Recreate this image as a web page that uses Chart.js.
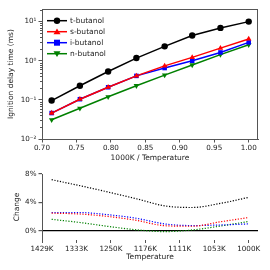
<!DOCTYPE html>
<html lang="en">

<head>
    <meta charset="UTF-8">
    <title>Ignition delay</title>
    <script src="https://cdn.jsdelivr.net/npm/chart.js"></script>
    <style>
        body { margin: 0; background: #fff; }
        #grafico1 { position: absolute; left: 0; top: 0; }
        #grafico2 { position: absolute; left: 0; top: 163px; }
    </style>
</head>

<body>
    <canvas id="grafico1" width="270" height="165"></canvas>
    <canvas id="grafico2" width="270" height="107"></canvas>
</body>

</html>
<script>
    // 1000K / T, same x for both panels
    const invT = [0.714, 0.755, 0.796, 0.837, 0.878, 0.918, 0.959, 1.0];

    // ignition delay (ms)
    const tButanol = [0.096, 0.23, 0.53, 1.17, 2.33, 4.4, 6.9, 10.0];
    const sButanol = [0.046, 0.104, 0.21, 0.41, 0.74, 1.22, 2.1, 3.6];
    const iButanol = [0.046, 0.104, 0.21, 0.41, 0.65, 1.0, 1.63, 2.95];
    const nButanol = [0.031, 0.061, 0.12, 0.23, 0.43, 0.78, 1.43, 2.57];

    // change (%)
    const tChange = [7.2, 6.35, 5.45, 4.5, 3.5, 3.27, 3.85, 4.7];
    const sChange = [2.47, 2.35, 2.0, 1.45, 0.7, 0.62, 1.25, 1.85];
    const iChange = [2.55, 2.55, 2.25, 1.75, 0.95, 0.72, 0.8, 0.95];
    const nChange = [1.6, 1.15, 0.6, 0.12, -0.14, 0.1, 0.65, 1.3];

    const xTicks = [0.70, 0.75, 0.80, 0.85, 0.90, 0.95, 1.00];
    const logTicks = [0.01, 0.1, 1, 10];
    const logLabels = ['10⁻²', '10⁻¹', '10⁰', '10¹'];
    const changeTicks = [0, 4, 8];

    const nomes = ['t-butanol', 's-butanol', 'i-butanol', 'n-butanol'];
    const cores = ['#000000', '#ff0000', '#0000ff', '#008000'];
    const marcadores = ['circle', 'triangle', 'rect', 'triangle'];
    const rotacoes = [0, 0, 0, 180];

    const cinza = '#555';
    Chart.defaults.font.family = 'DejaVu Sans';
    Chart.defaults.color = '#222';

    function pontos(ys) {
        return invT.map((x, i) => ({ x: x, y: ys[i] }));
    }

    // small line+marker sample, like the matplotlib legend handle
    function desenhaIcone(g, x, y, cor, estilo, rot) {
        g.save();
        g.strokeStyle = cor; g.fillStyle = cor; g.lineWidth = 1.5;
        g.beginPath(); g.moveTo(x - 10, y); g.lineTo(x + 10, y); g.stroke();
        g.beginPath();
        if (estilo == 'circle') {
            g.arc(x, y, 3.2, 0, Math.PI * 2);
        } else if (estilo == 'rect') {
            g.rect(x - 3, y - 3, 6, 6);
        } else if (rot == 180) {
            g.moveTo(x - 3.5, y - 2.5); g.lineTo(x + 3.5, y - 2.5); g.lineTo(x, y + 3.3);
        } else {
            g.moveTo(x - 3.5, y + 2.5); g.lineTo(x + 3.5, y + 2.5); g.lineTo(x, y - 3.3);
        }
        g.closePath(); g.fill();
        g.restore();
    }

    const legenda = {
        id: 'legenda',
        afterDraw(chart) {
            const a = chart.chartArea, ctx = chart.ctx;
            ctx.save();
            ctx.font = '7.5px "DejaVu Sans"';
            ctx.fillStyle = '#222';
            ctx.textBaseline = 'middle';
            chart.data.datasets.forEach((ds, i) => {
                const y = a.top + 11.7 + i * 11;
                desenhaIcone(ctx, a.left + 15, y, cores[i], marcadores[i], rotacoes[i]);
                ctx.fillText(ds.label, a.left + 28, y + 0.5);
            });
            ctx.restore();
        }
    };

    const moldura = {
        id: 'moldura',
        afterDraw(chart) {
            const a = chart.chartArea, ctx = chart.ctx;
            ctx.save();
            ctx.strokeStyle = cinza; ctx.lineWidth = 1;
            ctx.strokeRect(a.left + 0.5, a.top + 0.5, a.right - a.left - 1, a.bottom - a.top);
            // minor ticks of the log axis
            const y = chart.scales.y;
            ctx.beginPath();
            for (let d = 0.01; d < 20; d *= 10) {
                for (let k = 2; k < 10; k++) {
                    const v = d * k;
                    if (v > y.max) break;
                    const py = Math.round(y.getPixelForValue(v)) + 0.5;
                    ctx.moveTo(a.left - 2, py); ctx.lineTo(a.left, py);
                }
            }
            ctx.stroke();
            ctx.restore();
        }
    };

    new Chart(document.getElementById('grafico1'), {
        type: 'line',
        data: {
            datasets: nomes.map((n, i) => ({
                label: n,
                data: pontos([tButanol, sButanol, iButanol, nButanol][i]),
                borderColor: cores[i],
                backgroundColor: cores[i],
                borderWidth: 1.5,
                pointStyle: marcadores[i],
                rotation: rotacoes[i],
                pointRadius: 3.2,
                pointBorderWidth: 0,
                tension: 0
            }))
        },
        plugins: [moldura, legenda],
        options: {
            responsive: false,
            animation: false,
            devicePixelRatio: 1,
            layout: { padding: { top: 9, right: 12, left: 0, bottom: 0 } },
            plugins: { legend: { display: false }, tooltip: { enabled: false } },
            scales: {
                x: {
                    type: 'linear',
                    min: 0.7,
                    max: 1.0135,
                    afterBuildTicks: s => { s.ticks = xTicks.map(v => ({ value: v })); },
                    afterFit: s => { s.height = 26; },
                    border: { display: true, color: cinza },
                    grid: { drawOnChartArea: false, tickLength: 3.5, tickColor: cinza },
                    ticks: { font: { size: 7.2 }, padding: 1.5, maxRotation: 0, callback: v => v.toFixed(2) },
                    title: { display: true, text: '1000K / Temperature', font: { size: 7.5 }, padding: { top: 0, bottom: 2.7 } }
                },
                y: {
                    type: 'logarithmic',
                    min: 0.01,
                    max: 21,
                    afterBuildTicks: s => { s.ticks = logTicks.map(v => ({ value: v })); },
                    afterFit: s => { s.width = 42; },
                    border: { display: true, color: cinza },
                    grid: { drawOnChartArea: false, tickLength: 3.5, tickColor: cinza },
                    ticks: { font: { size: 7.2 }, padding: 2, callback: v => logLabels[logTicks.indexOf(v)] },
                    title: { display: true, text: 'Ignition delay time (ms)', font: { size: 7.5 }, padding: { top: 7, bottom: 0 } }
                }
            }
        }
    });

    new Chart(document.getElementById('grafico2'), {
        type: 'line',
        data: {
            datasets: nomes.map((n, i) => ({
                label: n,
                data: pontos([tChange, sChange, iChange, nChange][i]),
                borderColor: cores[i],
                borderWidth: 1.2,
                borderDash: [1.2, 1.6],
                pointRadius: 0,
                cubicInterpolationMode: 'monotone'
            }))
        },
        options: {
            responsive: false,
            animation: false,
            devicePixelRatio: 1,
            layout: { padding: { top: 11, right: 12, left: 0, bottom: 0 } },
            plugins: { legend: { display: false }, tooltip: { enabled: false } },
            scales: {
                x: {
                    type: 'linear',
                    min: 0.7,
                    max: 1.0135,
                    afterBuildTicks: s => { s.ticks = xTicks.map(v => ({ value: v })); },
                    afterFit: s => { s.height = 30; },
                    border: { display: false },
                    grid: { drawOnChartArea: false, tickLength: 3, tickColor: cinza },
                    ticks: { font: { size: 7.2 }, padding: 1.5, maxRotation: 0, callback: v => Math.round(1000 / v) + 'K' },
                    title: { display: true, text: 'Temperature', font: { size: 7.5 }, padding: { top: 0, bottom: 8.2 } }
                },
                y: {
                    min: -1.32,
                    max: 8,
                    afterBuildTicks: s => { s.ticks = changeTicks.map(v => ({ value: v })); },
                    afterFit: s => { s.width = 42; },
                    border: { display: true, color: cinza },
                    grid: {
                        drawOnChartArea: true,
                        tickLength: 3.5,
                        tickColor: cinza,
                        lineWidth: 1.2,
                        color: c => c.tick && c.tick.value === 0 ? '#000' : 'rgba(0,0,0,0)'
                    },
                    ticks: { font: { size: 7.2 }, padding: 2, callback: v => v + '%' },
                    title: { display: true, text: 'Change', font: { size: 7.5 }, padding: { top: 13, bottom: 0 } }
                }
            }
        }
    });
</script>
